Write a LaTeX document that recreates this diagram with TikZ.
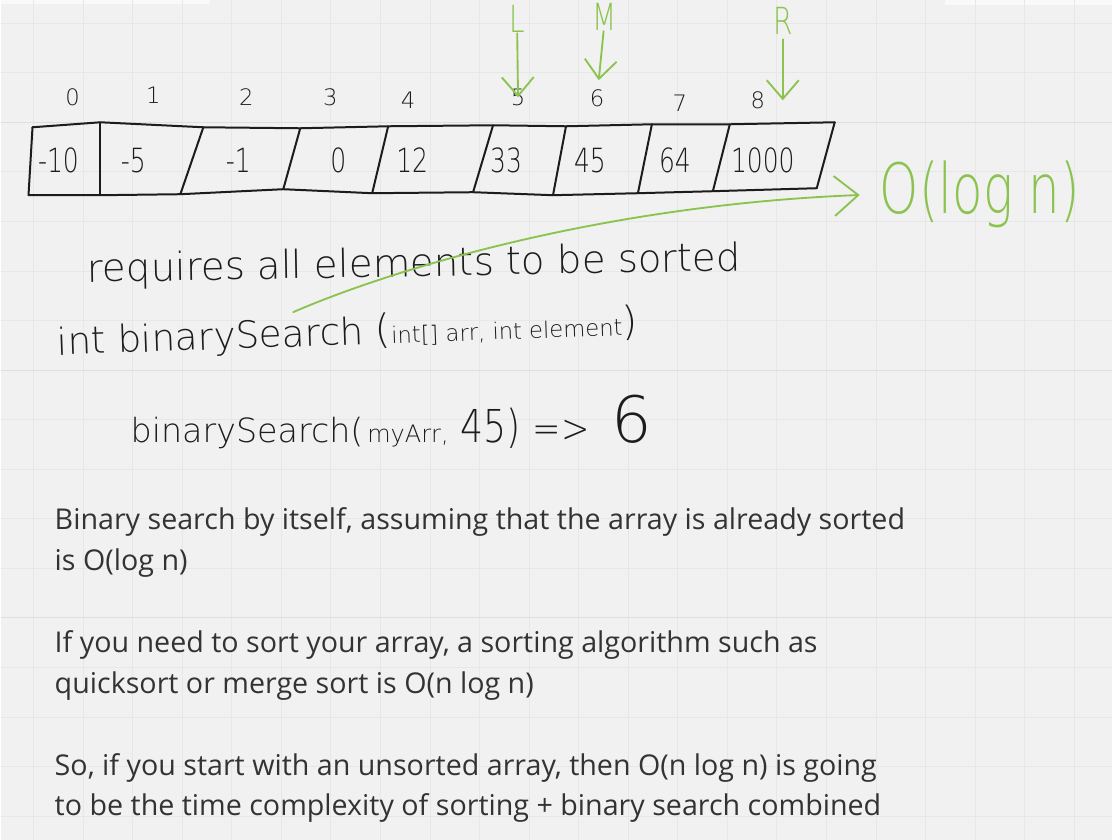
\documentclass[tikz,border=0pt]{standalone}
\usepackage{fontspec}
\setmainfont{Open Sans}
\newfontfamily\hand{DejaVuSans-ExtraLight.ttf}
\usetikzlibrary{arrows.meta, positioning}

\definecolor{board}{HTML}{F1F1F1}
\definecolor{gridline}{HTML}{E7E7E7}
\definecolor{gridmajor}{HTML}{DEDEDE}
\definecolor{ink}{HTML}{1C1C1C}
\definecolor{marker}{HTML}{8CC350}
\definecolor{typed}{HTML}{333333}

\begin{document}
\begin{tikzpicture}[x=0.75pt, y=-0.75pt,
    every node/.style={inner sep=0pt},
    cell/.style={draw=ink, line width=1.5pt, line join=round, line cap=round},
    idx/.style={font=\hand\fontsize{17}{18}\selectfont, text=ink},
    val/.style={font=\hand\fontsize{25}{26}\selectfont, text=ink},
    ptrlabel/.style={font=\hand\fontsize{28}{30}\selectfont, text=marker},
    ptr/.style={draw=marker, line width=1.4pt, line cap=round,
                -{Straight Barb[length=14pt, width=24pt]}},
    note/.style={font=\hand\fontsize{29}{32}\selectfont, text=ink, anchor=base west},
    para/.style={font=\fontsize{21.5}{30.75}\selectfont, text=typed, anchor=base west}]
  % board and grid
  \fill[board] (0,0) rectangle (1113,840);
  \fill[white!55!board] (0,0) rectangle (210,4);
  \fill[white!55!board] (945,0) rectangle (1113,5);
  \foreach \k in {0,...,21}
    \draw[gridline, line width=0.6pt] ({33+49.6*\k},0) -- ({33+49.6*\k},840);
  \foreach \k in {-2,...,14}
    \draw[gridline, line width=0.6pt] (0,{122+49.6*\k}) -- (1113,{122+49.6*\k});
  \foreach \k in {0,1,2}
    \draw[gridmajor, line width=0.8pt] (0,{122+248*\k}) -- (1113,{122+248*\k});

  % the array
  \foreach \n/\tx/\ty/\bx/\by in {0/32/127/28/195, 1/100/122/100/195, 2/203/127/180/194,
      3/300/128/283/189, 4/388/126/372/193, 5/493/125/473/192, 6/566/126/553/195,
      7/652/124/638/193, 8/730/124/713/191, 9/835/122/817/188} {
    \coordinate (t\n) at (\tx,\ty);
    \coordinate (b\n) at (\bx,\by);
  }
  \draw[cell] (t0) -- (t1) -- (t2) -- (t3) -- (t4) -- (t5) -- (t6) -- (t7) -- (t8) -- (t9);
  \draw[cell] (b0) -- (b1) -- (b2) -- (b3) -- (b4) -- (b5) -- (b6) -- (b7) -- (b8) -- (b9);
  \foreach \n in {0,...,9}
    \draw[cell] (t\n) -- (b\n);
  \foreach \n/\v/\x in {0/-10/58, 1/-5/133, 2/-1/238, 3/0/338, 4/12/412,
      5/33/506, 6/45/590, 7/64/675, 8/1000/763}
    \node[val] (v\n) at (\x,160) {\scalebox{0.75}[1]{\v}};
  \foreach \n/\x/\y in {0/72/97, 1/153/95, 2/246/97, 3/330/97, 4/408/100,
      5/518/97, 6/597/98, 7/680/103, 8/758/100}
    \node[idx] (i\n) at (\x,\y) {\n};

  % pointers
  \node[ptrlabel] (L) at (517,19) {\scalebox{0.75}[1]{L}};
  \node[ptrlabel] (M) at (605,17) {\scalebox{0.75}[1]{M}};
  \node[ptrlabel] (R) at (783,21) {\scalebox{0.75}[1]{R}};
  \draw[ptr] (L) -- (i5.center);
  \draw[ptr, shorten >=7pt] (M) -- (i6);
  \draw[ptr, shorten <=3pt] (R) -- (R |- i8);

  % handwritten notes
  \node[note, rotate=1] (req) at (87,282) {requires all elements to be sorted};
  \node[note, rotate=2] (sig) at (57,355) {\fontsize{28}{30}\selectfont int binarySearch
    {\fontsize{30}{30}\selectfont(}{\fontsize{17}{18}\selectfont int[] arr, int element}{\fontsize{30}{30}\selectfont)}};
  \node[note] (call) at (130,443) {{\fontsize{25}{26}\selectfont binarySearch(}\hspace{3pt}%
    {\fontsize{18}{20}\selectfont myArr,}\hspace{9pt}%
    {\fontsize{34}{36}\selectfont\scalebox{0.8}[1]{45)}}\hspace{9pt}%
    {\fontsize{30}{32}\selectfont\scalebox{0.85}[1]{=>}}\hspace{16pt}%
    {\fontsize{48}{50}\selectfont 6}};

  % cost
  \node[font=\hand\fontsize{52}{54}\selectfont, text=marker, anchor=west] (cost) at (880,194) {\scalebox{0.72}[1]{O(log n)}};
  \coordinate (from) at (293,312);
  \draw[ptr, -{Straight Barb[length=18pt, width=30pt]}, shorten >=15pt]
    (from) .. controls (390,270) and (600,205) .. (cost.west);

  % typed text
  \node[para] (p1a) at (54,530) {Binary search by itself, assuming that the array is already sorted};
  \node[para] (p1b) at (54,571) {is O(log n)};
  \node[para] (p2a) at (54,653) {If you need to sort your array, a sorting algorithm such as};
  \node[para] (p2b) at (54,694) {quicksort or merge sort is O(n log n)};
  \node[para] (p3a) at (54,776) {So, if you start with an unsorted array, then O(n log n) is going};
  \node[para] (p3b) at (54,816) {to be the time complexity of sorting + binary search combined};
\end{tikzpicture}
\end{document}
